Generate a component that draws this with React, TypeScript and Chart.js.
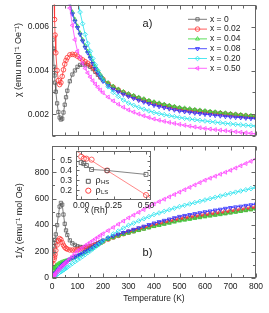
import React, { useEffect, useRef } from 'react';
import { Chart, registerables } from 'chart.js';
import { drawPoint } from 'chart.js/helpers';

Chart.register(...registerables);

const FONT = '"Liberation Sans", Arial, Helvetica, sans-serif';
const TEXT = '#222222';
const FRAME = '#666666';

// ---------- data ----------
const TEMPERATURE_K = [
  2, 5, 8, 10, 12, 15, 20, 25, 30, 35, 40, 45, 50, 55, 60, 70, 80, 90, 100, 110, 120, 130, 140, 150, 160, 170, 180, 190,
  200, 220, 240, 260, 280, 300, 320, 340, 360, 380, 400, 420, 440, 460, 480, 500, 520, 540, 560, 580, 600, 620, 640, 660,
  680, 700, 720, 740, 760, 780, 800,
];

// 1/chi (emu^-1 mol Oe) for each composition
const INV_CHI_X0 = [
  185, 200, 240, 265, 290, 330, 400, 475, 540, 568, 555, 480, 410, 360, 325, 285, 262, 250, 240, 235, 234, 234, 236, 240, 246, 254, 263, 272,
  281, 296, 310, 322, 334, 345, 355, 365, 375, 385, 395, 404, 413, 422, 431, 440, 446, 452, 458, 464, 470, 476, 481, 487, 492, 498, 504, 510, 516, 522, 528,
];
const INV_CHI_X002 = [
  60, 105, 140, 158, 178, 208, 250, 282, 298, 290, 268, 248, 233, 224, 218, 212, 211, 212, 215, 219, 223, 227, 231, 235, 241, 249, 258, 268,
  278, 294, 309, 322, 335, 347, 358, 369, 379, 390, 400, 410, 420, 429, 439, 448, 454, 460, 466, 472, 478, 483, 489, 494, 500, 505, 511, 517, 523, 529, 535,
];
const INV_CHI_X004 = [
  35, 60, 72, 78, 83, 90, 100, 107, 112, 117, 121, 124, 127, 130, 134, 140, 150, 158, 166, 175, 185, 195, 205, 215, 227, 239, 251, 263,
  275, 291, 305, 318, 330, 340, 350, 360, 370, 380, 390, 398, 407, 415, 424, 432, 438, 444, 451, 457, 463, 469, 475, 480, 486, 492, 498, 504, 510, 516, 522,
];
const INV_CHI_X008 = [
  8, 15, 22, 28, 32, 39, 52, 64, 75, 85, 95, 104, 112, 120, 127, 142, 152, 160, 168, 177, 187, 198, 208, 219, 232, 245, 258, 271,
  285, 302, 318, 331, 343, 355, 367, 379, 391, 403, 415, 425, 435, 445, 455, 465, 472, 479, 486, 493, 500, 506, 513, 519, 526, 532, 537, 542, 548, 553, 558,
];
const INV_CHI_X020 = [
  3, 7, 11, 14, 17, 21, 28, 35, 42, 48, 55, 61, 68, 75, 82, 96, 110, 124, 138, 150, 163, 177, 191, 205, 220, 235, 250, 265,
  280, 307, 333, 355, 377, 398, 415, 432, 448, 464, 480, 492, 504, 516, 528, 540, 550, 560, 570, 580, 590, 600, 610, 620, 630, 640, 649, 658, 667, 676, 685,
];
const INV_CHI_X050 = [
  8, 15, 20, 25, 29, 36, 48, 59, 70, 81, 92, 101, 110, 119, 128, 146, 165, 185, 205, 218, 231, 244, 257, 270, 283, 296, 309, 322,
  335, 359, 383, 407, 431, 455, 476, 497, 518, 539, 560, 578, 596, 614, 632, 650, 668, 686, 704, 722, 740, 755, 770, 785, 800, 815, 832, 849, 866, 883, 900,
];

const SERIES_VALUES = [INV_CHI_X0, INV_CHI_X002, INV_CHI_X004, INV_CHI_X008, INV_CHI_X020, INV_CHI_X050];
const SERIES_LABELS = ['x = 0', 'x = 0.02', 'x = 0.04', 'x = 0.08', 'x = 0.20', 'x = 0.50'];
const SERIES_COLORS = ['#5a5a5a', '#ff3333', '#33d633', '#2a2aff', '#22e2ee', '#ff44ff'];
const SERIES_MARKERS = ['rect', 'circle', 'triangle', 'triangle', 'rectRot', 'triangle'];
const SERIES_ROTATION = [0, 0, 0, 180, 0, 270];

// inset
const X_RH = [0, 0.02, 0.04, 0.08, 0.2, 0.5];
const RHO_HS = [0.48, 0.47, 0.45, 0.41, 0.4, 0.36];
const RHO_LS = [0.54, 0.52, 0.52, 0.51, 0.4, 0.15];
const LS_FIT_X = [-0.04, 0.54];
const LS_FIT_Y = [0.6, 0.117];

// ticks
const X_TICKS = [0, 100, 200, 300, 400, 500, 600, 700, 800];
const CHI_TICKS = [0.002, 0.004, 0.006];
const CHI_MINOR = [0.001, 0.003, 0.005, 0.007];
const INV_TICKS = [0, 200, 400, 600, 800];
const INV_MAJOR = [0, 200, 400, 600, 800, 1000];
const INV_MINOR = [100, 300, 500, 700, 900];
const INSET_X_TICKS = [0, 0.25, 0.5];
const INSET_X_MINOR = [0.125, 0.375];
const INSET_Y_TICKS = [0.2, 0.3, 0.4, 0.5];
const INSET_Y_MINOR = [0.15, 0.25, 0.35, 0.45, 0.55];

const X_MINOR = X_TICKS.slice(0, -1).map((v) => v + 50);

// ---------- plugins ----------
type TickCfg = { xMajor: number[]; xMinor: number[]; yMajor: number[]; yMinor: number[]; major: number; minor: number };

function framePlugin(id: string, cfg: TickCfg) {
  return {
    id,
    afterDatasetsDraw(chart: any) {
      const { ctx, chartArea: a, scales } = chart;
      const xs = scales.x;
      const ys = scales.y;
      const L = Math.round(a.left) + 0.5;
      const R = Math.round(a.right) - 0.5;
      const T = Math.round(a.top) + 0.5;
      const B = Math.round(a.bottom) - 0.5;
      ctx.save();
      ctx.strokeStyle = FRAME;
      ctx.lineWidth = 1;
      ctx.strokeRect(L, T, R - L, B - T);
      ctx.beginPath();
      const vx = (vals: number[], len: number) =>
        vals.forEach((v) => {
          const p = Math.round(xs.getPixelForValue(v)) + 0.5;
          ctx.moveTo(p, B);
          ctx.lineTo(p, B - len);
          ctx.moveTo(p, T);
          ctx.lineTo(p, T + len);
        });
      const vy = (vals: number[], len: number) =>
        vals.forEach((v) => {
          const p = Math.round(ys.getPixelForValue(v)) + 0.5;
          ctx.moveTo(L, p);
          ctx.lineTo(L + len, p);
          ctx.moveTo(R, p);
          ctx.lineTo(R - len, p);
        });
      vx(cfg.xMajor, cfg.major);
      vx(cfg.xMinor, cfg.minor);
      vy(cfg.yMajor, cfg.major);
      vy(cfg.yMinor, cfg.minor);
      ctx.stroke();
      ctx.restore();
    },
  };
}

type TextItem = { text: string; x: number; y: number; rot?: number; size: number; align?: CanvasTextAlign };

function textPlugin(id: string, items: TextItem[]) {
  return {
    id,
    afterDraw(chart: any) {
      const ctx = chart.ctx;
      items.forEach((it) => {
        ctx.save();
        ctx.font = `${it.size}px ${FONT}`;
        ctx.fillStyle = TEXT;
        ctx.textAlign = it.align || 'center';
        ctx.textBaseline = 'middle';
        ctx.translate(it.x, it.y);
        if (it.rot) ctx.rotate(it.rot);
        ctx.fillText(it.text, 0, 0);
        ctx.restore();
      });
    },
  };
}

const seriesLegendPlugin = {
  id: 'seriesLegend',
  afterDatasetsDraw(chart: any) {
    const ctx = chart.ctx;
    SERIES_LABELS.forEach((label, i) => {
      const y = 19.3 + i * 9.8;
      ctx.save();
      ctx.strokeStyle = SERIES_COLORS[i];
      ctx.lineWidth = 0.8;
      ctx.beginPath();
      ctx.moveTo(188, y);
      ctx.lineTo(207, y);
      ctx.stroke();
      ctx.fillStyle = 'rgba(0,0,0,0)';
      drawPoint(ctx, { pointStyle: SERIES_MARKERS[i] as any, rotation: SERIES_ROTATION[i], radius: 2.3, borderWidth: 0.8 } as any, 197.5, y);
      ctx.fillStyle = TEXT;
      ctx.font = `8.5px ${FONT}`;
      ctx.textAlign = 'left';
      ctx.textBaseline = 'middle';
      ctx.fillText(label, 210, y);
      ctx.restore();
    });
  },
};

const insetLegendPlugin = {
  id: 'insetLegend',
  afterDatasetsDraw(chart: any) {
    const ctx = chart.ctx;
    const rows = [
      { color: '#555555', style: 'rect', main: 'ρ', sub: 'HS', y: 35.3, r: 2.8 },
      { color: '#ff4040', style: 'circle', main: 'ρ', sub: 'LS', y: 44.7, r: 2.6 },
    ];
    rows.forEach((row) => {
      ctx.save();
      ctx.strokeStyle = row.color;
      ctx.fillStyle = 'rgba(0,0,0,0)';
      drawPoint(ctx, { pointStyle: row.style as any, rotation: 0, radius: row.r, borderWidth: 0.8 } as any, 38.3, row.y);
      ctx.fillStyle = TEXT;
      ctx.textAlign = 'left';
      ctx.textBaseline = 'middle';
      ctx.font = `9px ${FONT}`;
      ctx.fillText(row.main, 45.5, row.y - 0.5);
      const w = ctx.measureText(row.main).width;
      ctx.font = `6px ${FONT}`;
      ctx.fillText(row.sub, 45.5 + w + 0.3, row.y + 1.5);
      ctx.restore();
    });
  },
};

const whiteAreaPlugin = {
  id: 'whiteArea',
  beforeDatasetsDraw(chart: any) {
    const { ctx, chartArea: a } = chart;
    ctx.save();
    ctx.fillStyle = '#ffffff';
    ctx.fillRect(a.left, a.top, a.right - a.left, a.bottom - a.top);
    ctx.restore();
  },
};

// ---------- configs ----------
const tickFont = { family: FONT, size: 8.5 };
const noGrid = { display: false, drawTicks: false, tickLength: 0 };

function seriesDatasets(transform: (v: number) => number) {
  return SERIES_VALUES.map((vals, i) => ({
    label: SERIES_LABELS[i],
    data: TEMPERATURE_K.map((t, j) => ({ x: t, y: transform(vals[j]) })),
    showLine: true,
    borderColor: SERIES_COLORS[i],
    borderWidth: 0.8,
    pointBorderColor: SERIES_COLORS[i],
    pointBackgroundColor: 'rgba(0,0,0,0)',
    pointStyle: SERIES_MARKERS[i],
    pointRotation: SERIES_ROTATION[i],
    pointRadius: 2.3,
    pointBorderWidth: 0.8,
    order: SERIES_VALUES.length - i,
  }));
}

const baseOptions = {
  responsive: false,
  animation: false,
  events: [],
  plugins: { legend: { display: false }, tooltip: { enabled: false } },
};

function topConfig(): any {
  return {
    type: 'scatter',
    data: { datasets: seriesDatasets((v) => 1 / v) },
    options: {
      ...baseOptions,
      layout: { padding: { left: 0, right: 13, top: 4, bottom: 4 } },
      scales: {
        x: { type: 'linear', min: 0, max: 800, display: false },
        y: {
          type: 'linear',
          min: 0.001,
          max: 0.007,
          grid: noGrid,
          border: { display: false },
          afterBuildTicks: (s: any) => {
            s.ticks = CHI_TICKS.map((v) => ({ value: v }));
          },
          afterFit: (s: any) => {
            s.width = 52;
            s.paddingTop = 0;
            s.paddingBottom = 0;
          },
          ticks: { font: tickFont, color: TEXT, padding: 3, callback: (v: any) => Number(v).toFixed(3) },
        },
      },
    },
    plugins: [
      framePlugin('frameTop', { xMajor: X_TICKS, xMinor: X_MINOR, yMajor: CHI_TICKS, yMinor: CHI_MINOR, major: 4, minor: 3 }),
      seriesLegendPlugin,
      textPlugin('textTop', [
        { text: 'χ (emu mol⁻¹ Oe⁻¹)', x: 19, y: 60, rot: -Math.PI / 2, size: 9 },
        { text: 'a)', x: 147.5, y: 24, size: 11 },
      ]),
    ],
  };
}

function bottomConfig(): any {
  return {
    type: 'scatter',
    data: { datasets: seriesDatasets((v) => v) },
    options: {
      ...baseOptions,
      layout: { padding: { left: 0, right: 13, top: 3, bottom: 0 } },
      scales: {
        x: {
          type: 'linear',
          min: 0,
          max: 800,
          grid: noGrid,
          border: { display: false },
          afterBuildTicks: (s: any) => {
            s.ticks = X_TICKS.map((v) => ({ value: v }));
          },
          afterFit: (s: any) => {
            s.height = 35;
            s.paddingLeft = 0;
            s.paddingRight = 0;
          },
          ticks: { font: tickFont, color: TEXT, padding: 4, maxRotation: 0, callback: (v: any) => String(v) },
        },
        y: {
          type: 'linear',
          min: 0,
          max: 1000,
          grid: noGrid,
          border: { display: false },
          afterBuildTicks: (s: any) => {
            s.ticks = INV_TICKS.map((v) => ({ value: v }));
          },
          afterFit: (s: any) => {
            s.width = 52;
            s.paddingTop = 0;
            s.paddingBottom = 0;
          },
          ticks: { font: tickFont, color: TEXT, padding: 3, callback: (v: any) => String(v) },
        },
      },
    },
    plugins: [
      framePlugin('frameBottom', { xMajor: X_TICKS, xMinor: X_MINOR, yMajor: INV_MAJOR, yMinor: INV_MINOR, major: 4, minor: 2.5 }),
      textPlugin('textBottom', [
        { text: '1/χ (emu⁻¹ mol Oe)', x: 20, y: 80, rot: -Math.PI / 2, size: 9 },
        { text: 'Temperature (K)', x: 154, y: 158, size: 8.5 },
        { text: 'b)', x: 147.5, y: 112, size: 11 },
      ]),
    ],
  };
}

function insetConfig(): any {
  return {
    type: 'scatter',
    data: {
      datasets: [
        {
          label: 'ρHS',
          data: X_RH.map((x, i) => ({ x, y: RHO_HS[i] })),
          showLine: true,
          borderColor: '#666666',
          borderWidth: 0.8,
          pointStyle: 'rect',
          pointRadius: 2.8,
          pointBorderColor: '#555555',
          pointBackgroundColor: 'rgba(0,0,0,0)',
          pointBorderWidth: 0.8,
        },
        {
          label: 'ρLS',
          data: X_RH.map((x, i) => ({ x, y: RHO_LS[i] })),
          showLine: false,
          pointStyle: 'circle',
          pointRadius: 2.6,
          pointBorderColor: '#ff4040',
          pointBackgroundColor: 'rgba(0,0,0,0)',
          pointBorderWidth: 0.8,
        },
        {
          label: 'fit',
          data: LS_FIT_X.map((x, i) => ({ x, y: LS_FIT_Y[i] })),
          showLine: true,
          borderColor: '#ff6a6a',
          borderWidth: 0.8,
          pointRadius: 0,
        },
      ],
    },
    options: {
      ...baseOptions,
      layout: { padding: { left: 0, right: 4, top: 4, bottom: 0 } },
      scales: {
        x: {
          type: 'linear',
          min: -0.04,
          max: 0.54,
          grid: noGrid,
          border: { display: false },
          afterBuildTicks: (s: any) => {
            s.ticks = INSET_X_TICKS.map((v) => ({ value: v }));
          },
          afterFit: (s: any) => {
            s.height = 16;
            s.paddingLeft = 0;
            s.paddingRight = 0;
          },
          ticks: { font: tickFont, color: TEXT, padding: 1, maxRotation: 0, callback: (v: any) => Number(v).toFixed(2) },
        },
        y: {
          type: 'linear',
          min: 0.1,
          max: 0.6,
          grid: noGrid,
          border: { display: false },
          afterBuildTicks: (s: any) => {
            s.ticks = INSET_Y_TICKS.map((v) => ({ value: v }));
          },
          afterFit: (s: any) => {
            s.width = 26;
            s.paddingTop = 0;
            s.paddingBottom = 0;
          },
          ticks: { font: tickFont, color: TEXT, padding: 4, callback: (v: any) => Number(v).toFixed(1) },
        },
      },
    },
    plugins: [
      whiteAreaPlugin,
      framePlugin('frameInset', {
        xMajor: INSET_X_TICKS,
        xMinor: INSET_X_MINOR,
        yMajor: INSET_Y_TICKS,
        yMinor: INSET_Y_MINOR,
        major: 3,
        minor: 1.5,
      }),
      insetLegendPlugin,
      textPlugin('textInset', [{ text: 'x (Rh)', x: 46, y: 64.5, size: 8.5 }]),
    ],
  };
}

// ---------- components ----------
type Box = { left: number; top: number; width: number; height: number };

function ChartCanvas({ box, makeConfig }: { box: Box; makeConfig: () => any }) {
  const ref = useRef<HTMLCanvasElement>(null);
  useEffect(() => {
    if (!ref.current) return;
    const chart = new Chart(ref.current, makeConfig());
    return () => chart.destroy();
  }, []);
  return (
    <canvas
      ref={ref}
      width={box.width}
      height={box.height}
      style={{ position: 'absolute', left: box.left, top: box.top, width: box.width, height: box.height }}
    />
  );
}

const TOP_BOX: Box = { left: 0, top: 0, width: 269, height: 141 };
const BOTTOM_BOX: Box = { left: 0, top: 141, width: 269, height: 172 };
const INSET_BOX: Box = { left: 50, top: 146, width: 106, height: 70 };

export default function App() {
  return (
    <div style={{ position: 'absolute', left: 0, top: 0, width: 269, height: 313, background: '#ffffff', overflow: 'hidden' }}>
      <ChartCanvas box={TOP_BOX} makeConfig={topConfig} />
      <ChartCanvas box={BOTTOM_BOX} makeConfig={bottomConfig} />
      <ChartCanvas box={INSET_BOX} makeConfig={insetConfig} />
    </div>
  );
}
